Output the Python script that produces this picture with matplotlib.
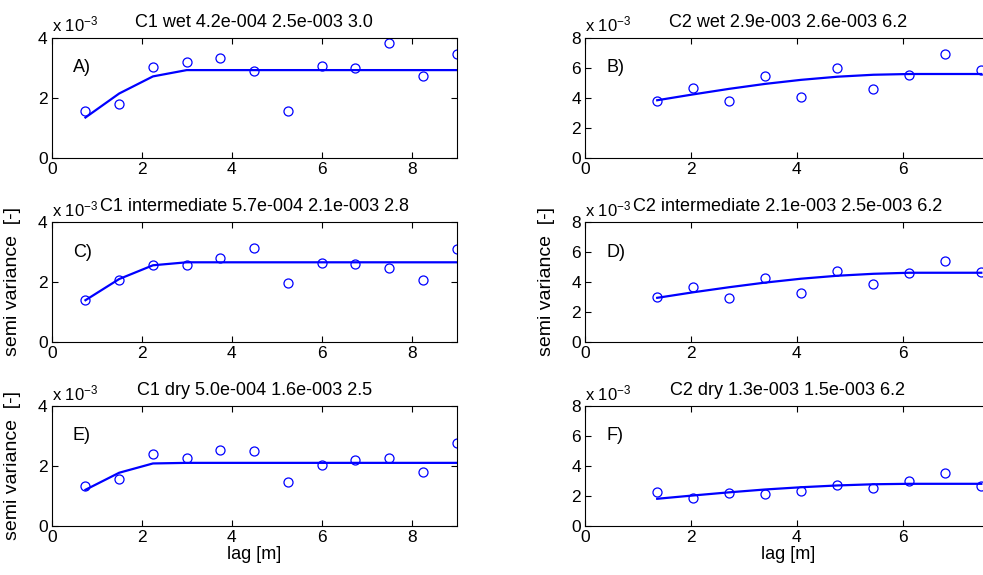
import matplotlib
matplotlib.use('Agg')
import matplotlib.pyplot as plt

plt.rcParams['font.family'] = ['Liberation Sans', 'DejaVu Sans']
plt.rcParams['mathtext.default'] = 'regular'

# lags [m]
lag_c1 = [0.75, 1.5, 2.25, 3.0, 3.75, 4.5, 5.25, 6.0, 6.75, 7.5, 8.25, 9.0]
lag_c2 = [1.36, 2.04, 2.72, 3.40, 4.08, 4.77, 5.45, 6.13, 6.81, 7.49]

# experimental semivariance (x 1e-3)
c1_wet = [1.57, 1.78, 3.02, 3.20, 3.33, 2.90, 1.57, 3.06, 2.99, 3.83, 2.73, 3.46]
c1_int = [1.39, 2.08, 2.56, 2.58, 2.80, 3.15, 1.96, 2.65, 2.61, 2.46, 2.08, 3.12]
c1_dry = [1.32, 1.55, 2.40, 2.27, 2.52, 2.49, 1.46, 2.04, 2.20, 2.27, 1.79, 2.75]
c2_wet = [3.80, 4.67, 3.80, 5.47, 4.04, 5.98, 4.60, 5.53, 6.91, 5.82]
c2_int = [2.97, 3.66, 2.91, 4.25, 3.28, 4.74, 3.84, 4.63, 5.41, 4.67]
c2_dry = [2.23, 1.83, 2.17, 2.14, 2.30, 2.72, 2.54, 3.01, 3.54, 2.67]

# fitted spherical model (x 1e-3)
c1_wet_fit = [1.34, 2.14, 2.71, 2.92, 2.92, 2.92, 2.92, 2.92, 2.92, 2.92, 2.92, 2.92]
c1_int_fit = [1.39, 2.10, 2.56, 2.66, 2.66, 2.66, 2.66, 2.66, 2.66, 2.66, 2.66, 2.66]
c1_dry_fit = [1.20, 1.77, 2.08, 2.10, 2.10, 2.10, 2.10, 2.10, 2.10, 2.10, 2.10, 2.10]
c2_wet_fit = [3.83, 4.22, 4.59, 4.92, 5.19, 5.40, 5.53, 5.58, 5.58, 5.58]
c2_int_fit = [2.94, 3.31, 3.65, 3.96, 4.22, 4.42, 4.55, 4.62, 4.62, 4.62]
c2_dry_fit = [1.80, 2.02, 2.23, 2.42, 2.57, 2.69, 2.77, 2.80, 2.80, 2.80]

titles = ['C1 wet 4.2e-004 2.5e-003 3.0', 'C2 wet 2.9e-003 2.6e-003 6.2',
          'C1 intermediate 5.7e-004 2.1e-003 2.8', 'C2 intermediate 2.1e-003 2.5e-003 6.2',
          'C1 dry 5.0e-004 1.6e-003 2.5', 'C2 dry 1.3e-003 1.5e-003 6.2']
letters = ['A)', 'B)', 'C)', 'D)', 'E)', 'F)']

panels = [(lag_c1, c1_wet, c1_wet_fit), (lag_c2, c2_wet, c2_wet_fit),
          (lag_c1, c1_int, c1_int_fit), (lag_c2, c2_int, c2_int_fit),
          (lag_c1, c1_dry, c1_dry_fit), (lag_c2, c2_dry, c2_dry_fit)]

fig = plt.figure(figsize=(9.83, 5.75), dpi=100)
W, H = 983.0, 575.0
rows = [(37.7, 157.7), (222.3, 341.7), (406.0, 525.7)]
cols = [51.7, 585.3]

for i, (x, y, fit) in enumerate(panels):
    r, c = divmod(i, 2)
    top, bot = rows[r]
    ax = fig.add_axes([cols[c] / W, 1 - bot / H, 405 / W, (bot - top) / H])
    ax.plot(x, fit, '-', color='#0000ff', lw=1.6)
    ax.plot(x, y, 'o', mfc='none', mec='#0000ff', ms=6.5, mew=0.9)
    if c == 0:
        ax.set_xlim(0, 9)
        ax.set_ylim(0, 4)
        ax.set_xticks([0, 2, 4, 6, 8])
        ax.set_yticks([0, 2, 4])
    else:
        ax.set_xlim(0, 7.66)
        ax.set_ylim(0, 8)
        ax.set_xticks([0, 2, 4, 6])
        ax.set_yticks([0, 2, 4, 6, 8])
    ax.tick_params(direction='in', top=True, right=True, length=4, width=0.8,
                   labelsize=12.5, pad=3)
    for s in ax.spines.values():
        s.set_linewidth(0.8)
    ax.set_title(titles[i], fontsize=13, pad=8)
    ax.text(0.0, 1.025, 'x 10$^{-3}$', transform=ax.transAxes, fontsize=12,
            ha='left', va='bottom')
    ax.text(0.052, 0.75, letters[i], transform=ax.transAxes, fontsize=13,
            ha='left', va='center')
    if i in (2, 3, 4):
        ax.set_ylabel('semi variance  [-]', fontsize=14)
        ax.yaxis.set_label_coords(-0.075, 0.5)
    if r == 2:
        ax.set_xlabel('lag [m]', fontsize=13, labelpad=1)

fig.savefig('out.png', dpi=100)
